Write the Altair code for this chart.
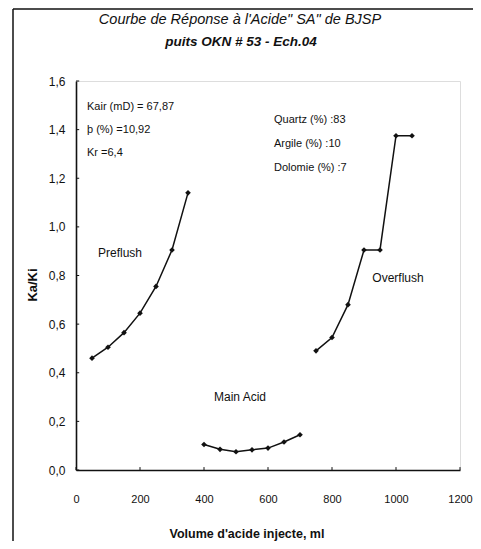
import altair as alt
import pandas as pd

# ---- data ----
pre_x = [50, 100, 150, 200, 250, 300, 350]
pre_y = [0.46, 0.505, 0.565, 0.645, 0.755, 0.905, 1.14]
main_x = [400, 450, 500, 550, 600, 650, 700]
main_y = [0.105, 0.085, 0.075, 0.083, 0.09, 0.115, 0.145]
over_x = [750, 800, 850, 900, 950, 1000, 1050]
over_y = [0.49, 0.545, 0.68, 0.905, 0.905, 1.375, 1.375]

x_ticks = [0, 200, 400, 600, 800, 1000, 1200]
y_ticks = [0.0, 0.2, 0.4, 0.6, 0.8, 1.0, 1.2, 1.4, 1.6]

title_text = "Courbe de Réponse à l'Acide\" SA\" de BJSP"
subtitle_text = "puits OKN # 53 - Ech.04"
x_title = "Volume d'acide injecte, ml"
y_title = "Ka/Ki"
left_notes = ["Kair (mD) = 67,87", "þ (%) =10,92", "Kr =6,4"]
right_notes = ["Quartz (%) :83", "Argile (%) :10", "Dolomie (%) :7"]
stage_labels = ["Preflush", "Main Acid", "Overflush"]

FONT = "Liberation Sans, Arial, sans-serif"

rows = []
for name, xs, ys in [("pre", pre_x, pre_y), ("main", main_x, main_y), ("over", over_x, over_y)]:
    for a, b in zip(xs, ys):
        rows.append({"x": a, "y": b, "s": name})
df = pd.DataFrame(rows)

xsc = alt.Scale(domain=[0, 1200], nice=False, zero=False)
ysc = alt.Scale(domain=[0, 1.6], nice=False, zero=False)

x_axis = alt.Axis(values=x_ticks, ticks=False, labelPadding=23, grid=False, format="d",
                  labelFont=FONT, labelFontSize=11, labelColor="#111",
                  domainColor="#111", domainWidth=1.6, title=None, labelFlush=False)
y_axis = alt.Axis(values=y_ticks, ticks=False, labelPadding=11, grid=False,
                  labelFont=FONT, labelFontSize=12, labelColor="#111",
                  labelExpr="replace(format(datum.value, '.1f'), '.', ',')",
                  domainColor="#111", domainWidth=1.6, title=None)

lines = alt.Chart(df).mark_line(color="#111", strokeWidth=1.5).encode(
    x=alt.X("x:Q", scale=xsc, axis=x_axis),
    y=alt.Y("y:Q", scale=ysc, axis=y_axis),
    detail="s:N",
)
points = alt.Chart(df).mark_point(shape="diamond", filled=True, color="#111", size=32, opacity=1).encode(
    x=alt.X("x:Q", scale=xsc), y=alt.Y("y:Q", scale=ysc)
)

# small inward ticks
xt_df = pd.DataFrame({"x": x_ticks, "y": [0.0] * len(x_ticks), "y2": [0.012] * len(x_ticks)})
xt = alt.Chart(xt_df).mark_rule(color="#111", strokeWidth=1).encode(
    x=alt.X("x:Q", scale=xsc), y=alt.Y("y:Q", scale=ysc), y2="y2:Q"
)
yt_df = pd.DataFrame({"y": y_ticks, "x": [0] * len(y_ticks), "x2": [10] * len(y_ticks)})
yt = alt.Chart(yt_df).mark_rule(color="#111", strokeWidth=1).encode(
    y=alt.Y("y:Q", scale=ysc), x=alt.X("x:Q", scale=xsc), x2="x2:Q"
)

def txt(s, x, y, size=13, align="left", style="normal", weight="normal", angle=0):
    kw = dict(font=FONT, fontSize=size, align=align, baseline="middle",
              fontStyle=style, fontWeight=weight, color="#111")
    if angle:
        kw["angle"] = angle
    return alt.Chart(pd.DataFrame({"t": [s]})).mark_text(**kw).encode(
        text="t:N", x=alt.value(x), y=alt.value(y)
    )

texts = [
    txt(title_text, 164, -61, size=14.5, align="center", style="italic"),
    txt(subtitle_text, 165, -39, size=13.5, align="center", style="italic", weight="bold"),
    txt(x_title, 171, 453, size=12.5, align="center", weight="bold"),
    txt(y_title, -43, 204, size=13, align="center", weight="bold", angle=270),
]
for i, s in enumerate(left_notes):
    texts.append(txt(s, 11, 26 + i * 23, size=11))
for i, s in enumerate(right_notes):
    texts.append(txt(s, 198, 39 + i * 24, size=11))
texts.append(txt(stage_labels[0], 44, 172, size=12, align="center"))
texts.append(txt(stage_labels[1], 164, 316, size=12, align="center"))
texts.append(txt(stage_labels[2], 322, 197, size=12, align="center"))

# outer frame (top and left edge of the scanned figure)
top_line = alt.Chart(pd.DataFrame({"a": [0]})).mark_rule(color="#111", strokeWidth=1.5).encode(
    x=alt.value(-63), x2=alt.value(397), y=alt.value(-72)
)
left_line = alt.Chart(pd.DataFrame({"a": [0]})).mark_rule(color="#111", strokeWidth=1.5).encode(
    x=alt.value(-63), y=alt.value(-72), y2=alt.value(460)
)

chart = alt.layer(lines, points, xt, yt, top_line, left_line, *texts).properties(
    width=384, height=389,
    autosize=alt.AutoSizeParams(type="none"),
    padding={"left": 68, "top": 73, "right": 13, "bottom": 71},
).configure_view(stroke="#111", strokeWidth=2).configure(background="white")

chart.save("out.html", embed_options={"renderer": "svg", "actions": False})
